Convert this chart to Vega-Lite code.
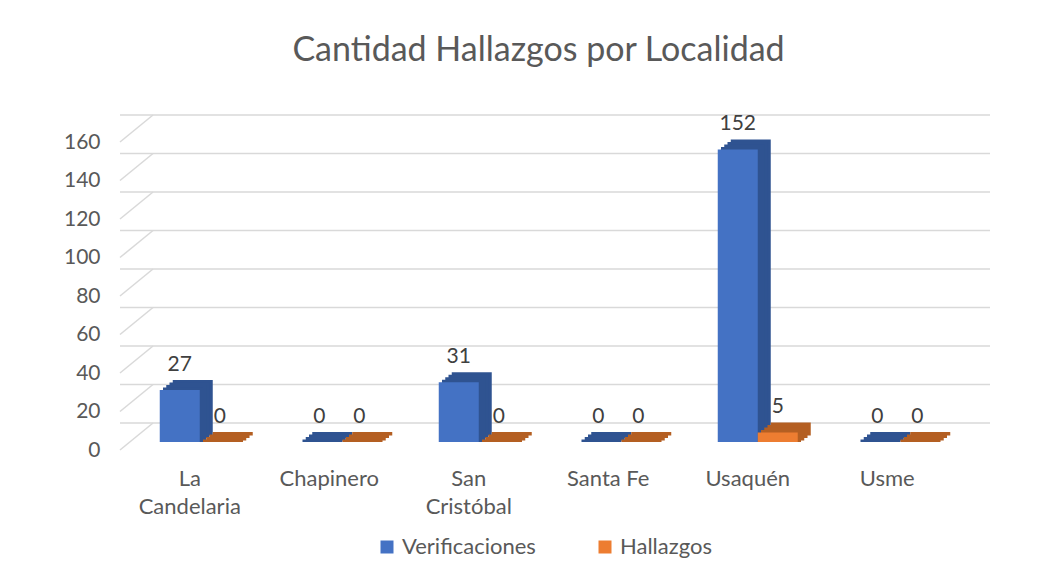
{
  "$schema": "https://vega.github.io/schema/vega-lite/v6.json",
  "width": 837,
  "height": 308,
  "autosize": "none",
  "padding": {"left": 120, "top": 134, "right": 90, "bottom": 129},
  "background": "white",
  "title": {"text": "Cantidad Hallazgos por Localidad", "fontSize": 34, "font": "Lato", "fontWeight": "normal", "color": "#595959", "anchor": "middle", "offset": 45},
  "datasets": {
    "bars": [
      {"Localidad": "La Candelaria", "Serie": "Verificaciones", "Valor": 27},
      {"Localidad": "La Candelaria", "Serie": "Hallazgos", "Valor": 0},
      {"Localidad": "Chapinero", "Serie": "Verificaciones", "Valor": 0},
      {"Localidad": "Chapinero", "Serie": "Hallazgos", "Valor": 0},
      {"Localidad": "San Cristóbal", "Serie": "Verificaciones", "Valor": 31},
      {"Localidad": "San Cristóbal", "Serie": "Hallazgos", "Valor": 0},
      {"Localidad": "Santa Fe", "Serie": "Verificaciones", "Valor": 0},
      {"Localidad": "Santa Fe", "Serie": "Hallazgos", "Valor": 0},
      {"Localidad": "Usaquén", "Serie": "Verificaciones", "Valor": 152},
      {"Localidad": "Usaquén", "Serie": "Hallazgos", "Valor": 5},
      {"Localidad": "Usme", "Serie": "Verificaciones", "Valor": 0},
      {"Localidad": "Usme", "Serie": "Hallazgos", "Valor": 0}
    ],
    "grid": [{"v": 0}, {"v": 20}, {"v": 40}, {"v": 60}, {"v": 80}, {"v": 100}, {"v": 120}, {"v": 140}, {"v": 160}]
  },
  "layer": [
    {
      "data": {"name": "grid"},
      "mark": {"type": "rule", "color": "#D9D9D9", "strokeWidth": 1.5, "xOffset": 33, "x2Offset": 33, "yOffset": -19},
      "encoding": {
        "y": {"field": "v", "type": "quantitative", "title": null, "scale": {"domain": [0, 160], "nice": false},
              "axis": {"values": [0, 20, 40, 60, 80, 100, 120, 140, 160], "labelOverlap": false, "tickCount": 9}}
      }
    },
    {
      "data": {"name": "grid"},
      "mark": {"type": "rule", "color": "#D9D9D9", "strokeWidth": 1.5, "yOffset": 8, "y2Offset": -19, "x2Offset": -36.75},
      "encoding": {
        "x": {"datum": "La Candelaria", "type": "nominal", "bandPosition": 0, "title": null, "sort": ["La Candelaria", "Chapinero", "San Cristóbal", "Santa Fe", "Usaquén", "Usme"]},
        "x2": {"datum": "La Candelaria"},
        "y": {"field": "v", "type": "quantitative", "title": null, "axis": {"values": [0, 20, 40, 60, 80, 100, 120, 140, 160], "labelOverlap": false, "tickCount": 9}},
        "y2": {"field": "v"}
      }
    },
    {
      "data": {"name": "bars"},
      "transform": [{"filter": "datum.Serie == 'Verificaciones'"}],
      "encoding": {
        "x": {"field": "Localidad", "type": "nominal", "title": null, "sort": ["La Candelaria", "Chapinero", "San Cristóbal", "Santa Fe", "Usaquén", "Usme"]},
        "y": {"field": "Valor", "type": "quantitative", "title": null, "axis": {"values": [0, 20, 40, 60, 80, 100, 120, 140, 160], "labelOverlap": false, "tickCount": 9}}
      },
      "layer": [
        {"mark": {"type": "bar", "width": 40, "color": "#2F5391", "xOffset": 3, "yOffset": -10, "y2Offset": -6.5},
         "encoding": {"y2": {"datum": 0}}},
        {"mark": {"type": "bar", "width": 40, "color": "#2F5391", "xOffset": -0.25, "yOffset": -7.5, "y2Offset": -4},
         "encoding": {"y2": {"datum": 0}}},
        {"mark": {"type": "bar", "width": 40, "color": "#2F5391", "xOffset": -3.5, "yOffset": -5, "y2Offset": -1.5},
         "encoding": {"y2": {"datum": 0}}},
        {"mark": {"type": "bar", "width": 40, "color": "#2F5391", "xOffset": -6.75, "yOffset": -2.5, "y2Offset": 0.01},
         "encoding": {"y2": {"datum": 0}}},
        {"mark": {"type": "bar", "width": 40, "xOffset": -10},
         "encoding": {
           "x": {"field": "Localidad", "type": "nominal", "title": null, "sort": ["La Candelaria", "Chapinero", "San Cristóbal", "Santa Fe", "Usaquén", "Usme"],
                 "axis": {"labelExpr": "datum.value == 'La Candelaria' ? ['La', 'Candelaria'] : datum.value == 'San Cristóbal' ? ['San', 'Cristóbal'] : datum.value"}},
           "color": {"field": "Serie", "type": "nominal", "title": null, "scale": {"domain": ["Verificaciones", "Hallazgos"], "range": ["#4472C4", "#ED7D31"]},
                     "legend": {"orient": "none", "direction": "horizontal", "legendX": 256, "legendY": 402}}
         }},
        {"mark": {"type": "text", "xOffset": -10, "dy": -25, "baseline": "middle", "fontSize": 21, "color": "#404040", "font": "Lato"},
         "encoding": {"text": {"field": "Valor", "type": "quantitative"}}}
      ]
    },
    {
      "data": {"name": "bars"},
      "transform": [{"filter": "datum.Serie == 'Hallazgos'"}],
      "encoding": {
        "x": {"field": "Localidad", "type": "nominal", "title": null, "sort": ["La Candelaria", "Chapinero", "San Cristóbal", "Santa Fe", "Usaquén", "Usme"]},
        "y": {"field": "Valor", "type": "quantitative", "title": null, "axis": {"values": [0, 20, 40, 60, 80, 100, 120, 140, 160], "labelOverlap": false, "tickCount": 9}}
      },
      "layer": [
        {"mark": {"type": "bar", "width": 40, "color": "#B45F22", "xOffset": 43, "yOffset": -10, "y2Offset": -6.5},
         "encoding": {"y2": {"datum": 0}}},
        {"mark": {"type": "bar", "width": 40, "color": "#B45F22", "xOffset": 39.75, "yOffset": -7.5, "y2Offset": -4},
         "encoding": {"y2": {"datum": 0}}},
        {"mark": {"type": "bar", "width": 40, "color": "#B45F22", "xOffset": 36.5, "yOffset": -5, "y2Offset": -1.5},
         "encoding": {"y2": {"datum": 0}}},
        {"mark": {"type": "bar", "width": 40, "color": "#B45F22", "xOffset": 33.25, "yOffset": -2.5, "y2Offset": 0.01},
         "encoding": {"y2": {"datum": 0}}},
        {"mark": {"type": "bar", "width": 40, "xOffset": 30},
         "encoding": {
           "color": {"field": "Serie", "type": "nominal", "title": null, "scale": {"domain": ["Verificaciones", "Hallazgos"], "range": ["#4472C4", "#ED7D31"]}}
         }},
        {"mark": {"type": "text", "xOffset": 30, "dy": -25, "baseline": "middle", "fontSize": 21, "color": "#404040", "font": "Lato"},
         "encoding": {"text": {"field": "Valor", "type": "quantitative"}}}
      ]
    }
  ],
  "config": {
    "font": "Lato",
    "view": {"stroke": null},
    "scale": {"bandPaddingInner": 0, "bandPaddingOuter": 0},
    "axisX": {"domain": false, "ticks": false, "grid": false, "labelFontSize": 22, "labelColor": "#595959", "labelPadding": 26, "labelLineHeight": 28, "labelAngle": 0, "labelFont": "Lato"},
    "axisY": {"domain": false, "ticks": false, "grid": false, "labelFontSize": 21, "labelColor": "#595959", "labelPadding": 20, "labelOffset": 8, "labelFont": "Lato", "labelOverlap": false, "tickCount": 9},
    "legend": {"symbolType": "square", "symbolSize": 169, "labelFontSize": 22, "labelColor": "#595959", "columnPadding": 58, "labelOffset": 4, "labelFont": "Lato"}
  }
}
